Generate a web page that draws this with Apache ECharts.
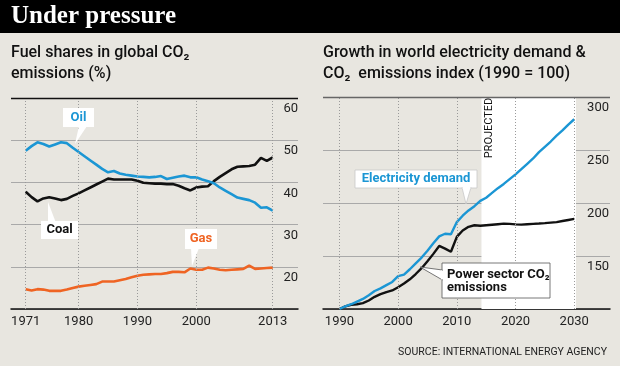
<!DOCTYPE html>
<html><head><meta charset="utf-8">
<script src="https://cdn.jsdelivr.net/npm/echarts@6/dist/echarts.min.js"></script>
<style>html,body{margin:0;padding:0;background:#e8e6e0}#c{width:620px;height:366px}</style>
</head><body><div id="c"></div>
<script>
const fuelYears = [1971,1972,1973,1974,1975,1976,1977,1978,1979,1980,1981,1982,1983,1984,1985,1986,1987,1988,1989,1990,1991,1992,1993,1994,1995,1996,1997,1998,1999,2000,2001,2002,2003,2004,2005,2006,2007,2008,2009,2010,2011,2012,2013];
const oilShare = [47.5,48.6,49.5,49.1,48.5,49.0,49.5,49.3,48.2,47.2,46.2,45.2,44.2,43.2,42.4,42.7,42.1,41.8,41.6,41.4,41.3,41.2,41.3,41.5,40.8,41.1,41.4,41.6,41.2,41.2,40.7,40.3,39.8,38.8,38.0,37.2,36.4,36.1,35.8,35.2,34.0,34.1,33.3];
const coalShare = [37.8,36.5,35.5,36.2,36.5,36.2,35.8,36.1,36.8,37.4,38.1,38.8,39.5,40.2,40.9,40.7,40.7,40.7,40.7,40.4,39.9,39.8,39.7,39.7,39.6,39.6,39.2,38.6,38.1,38.8,39.0,39.1,40.3,41.3,42.2,43.1,43.7,43.8,43.9,44.2,45.8,45.1,45.9];
const gasShare = [14.7,14.4,14.7,14.6,14.3,14.3,14.3,14.6,15.0,15.3,15.5,15.7,15.9,16.5,16.5,16.5,16.8,17.1,17.5,17.9,18.1,18.2,18.3,18.3,18.5,18.8,18.8,18.7,19.6,19.3,19.3,19.8,19.6,19.3,19.2,19.3,19.4,19.5,20.3,19.5,19.6,19.7,19.8];
const fuelTicks = [1971,1980,1990,2000,2013];

const indexYears = [1990,1991,1992,1993,1994,1995,1996,1997,1998,1999,2000,2001,2002,2003,2004,2005,2006,2007,2008,2009,2010,2011,2012,2013,2014,2015,2016,2017,2018,2019,2020,2021,2022,2023,2024,2025,2026,2027,2028,2029,2030];
const electricityDemand = [100,102.5,104.5,107,109.5,113,117,119.5,122.5,125.5,131,132.5,137.5,143,148.5,155,162,168.5,171,170.5,182,188,193,197,202,205,209.5,214,218,222.5,227,232,237,242,248,253,258,263.5,268.5,274,279];
const powerCO2 = [100,102.5,104,104.5,105.5,108,111.5,114,116,117.5,120.5,124,128,133,138.5,145,152,159.5,157,154,168,174,177.5,179,178.5,179,179.5,180,180.5,180.3,179.8,179.6,180,180.3,180.6,181,181.5,182,183,184,185];
const indexTicks = [1990,2000,2010,2020,2030];
const projectedStart = 2014.2, projectedEnd = 2030.3;

const BLUE = '#1b96d4', ORANGE = '#ef6423', BLACK = '#111';
const FONT = 'Roboto, "Noto Sans", sans-serif';

function pairs(xs, ys){ return xs.map((x,i)=>[x, ys[i]]); }
function vlines(ticks){ return ticks.map(t=>({xAxis:t})); }

const chart = echarts.init(document.getElementById('c'), null, {renderer:'canvas'});
const axisLabelY = {inside:true, margin:0, verticalAlign:'top', lineHeight:22, color:'#222', fontSize:13, fontFamily:FONT, showMinLabel:false};
const option = {
  backgroundColor:'#e8e6e0',
  animation:false,
  grid:[{left:11, right:322, top:98, bottom:57},{left:323, right:10, top:97, bottom:57}],
  xAxis:[
    {gridIndex:0, type:'value', min:1968.5, max:2017.3, axisLine:{lineStyle:{color:'#111', width:1.5}}, axisTick:{show:false}, splitLine:{show:false},
     axisLabel:{customValues:fuelTicks, color:'#222', fontSize:13, fontFamily:FONT, margin:6, formatter:v=>String(v)}},
    {gridIndex:1, type:'value', min:1987.2, max:2036.1, axisLine:{lineStyle:{color:'#111', width:1.5}}, axisTick:{show:false}, splitLine:{show:false},
     axisLabel:{customValues:indexTicks, color:'#222', fontSize:13, fontFamily:FONT, margin:6, formatter:v=>String(v)}}
  ],
  yAxis:[
    {gridIndex:0, type:'value', min:10, max:60, interval:10, position:'right', axisLine:{show:false}, axisTick:{show:false},
     splitLine:{lineStyle:{color:'#a9a9a9', width:1}}, axisLabel:axisLabelY},
    {gridIndex:1, type:'value', min:100, max:300, interval:50, position:'right', axisLine:{show:false}, axisTick:{show:false},
     splitLine:{lineStyle:{color:'#a9a9a9', width:1}}, axisLabel:Object.assign({}, axisLabelY, {margin:1})}
  ],
  series:[
    {type:'line', xAxisIndex:1, yAxisIndex:1, z:-3, data:[], silent:true,
     markArea:{silent:true, itemStyle:{color:'#ffffff'}, data:[[{xAxis:projectedStart},{xAxis:projectedEnd}]]}},
    {type:'line', xAxisIndex:0, yAxisIndex:0, z:-1, data:[], silent:true,
     markLine:{silent:true, symbol:'none', label:{show:false}, lineStyle:{type:[1,2], color:'#9a9a9a', width:1}, data:vlines(fuelTicks)}},
    {type:'line', xAxisIndex:1, yAxisIndex:1, z:-1, data:[], silent:true,
     markLine:{silent:true, symbol:'none', label:{show:false}, lineStyle:{type:[1,2], color:'#9a9a9a', width:1}, data:vlines(indexTicks)}},
    {type:'line', xAxisIndex:0, yAxisIndex:0, z:1, data:[], silent:true,
     markLine:{silent:true, symbol:'none', label:{show:false}, lineStyle:{type:'solid', color:'#111', width:1.3}, data:[{yAxis:60}]}},
    {type:'line', xAxisIndex:1, yAxisIndex:1, z:1, data:[], silent:true,
     markLine:{silent:true, symbol:'none', label:{show:false}, lineStyle:{type:'solid', color:'#666', width:1.3}, data:[{yAxis:300}]}},
    {name:'Gas', type:'line', xAxisIndex:0, yAxisIndex:0, showSymbol:false, data:pairs(fuelYears, gasShare), lineStyle:{color:ORANGE, width:2.6}},
    {name:'Coal', type:'line', xAxisIndex:0, yAxisIndex:0, showSymbol:false, data:pairs(fuelYears, coalShare), lineStyle:{color:BLACK, width:2.6}},
    {name:'Oil', type:'line', xAxisIndex:0, yAxisIndex:0, showSymbol:false, data:pairs(fuelYears, oilShare), lineStyle:{color:BLUE, width:2.6}},
    {name:'Power sector CO2 emissions', type:'line', xAxisIndex:1, yAxisIndex:1, showSymbol:false, data:pairs(indexYears, powerCO2), lineStyle:{color:BLACK, width:2.4}},
    {name:'Electricity demand', type:'line', xAxisIndex:1, yAxisIndex:1, showSymbol:false, data:pairs(indexYears, electricityDemand), lineStyle:{color:BLUE, width:2.4}}
  ],
  graphic:[
    {type:'rect', z:100, shape:{x:0, y:0, width:620, height:33}, style:{fill:'#000'}},
    {type:'text', z:101, x:11, y:17, style:{text:'Under pressure', fill:'#fff', font:'bold 25px "Liberation Serif", serif', verticalAlign:'middle'}},
    {type:'text', z:101, x:11, y:53, style:{text:'Fuel shares in global CO₂', fill:'#111', font:'500 16px '+FONT, verticalAlign:'middle'}},
    {type:'text', z:101, x:11, y:74, style:{text:'emissions (%)', fill:'#111', font:'500 16px '+FONT, verticalAlign:'middle'}},
    {type:'text', z:101, x:323, y:53, style:{text:'Growth in world electricity demand &', fill:'#111', font:'500 16px '+FONT, verticalAlign:'middle'}},
    {type:'text', z:101, x:323, y:74, style:{text:'CO₂  emissions index (1990 = 100)', fill:'#111', font:'500 16px '+FONT, verticalAlign:'middle'}},
    {type:'text', z:101, x:607, y:352, style:{text:'SOURCE: INTERNATIONAL ENERGY AGENCY', fill:'#222', font:'10.5px '+FONT, align:'right', verticalAlign:'middle'}},
    {type:'text', z:101, x:489, y:128, rotation:Math.PI/2, style:{text:'PROJECTED', fill:'#111', font:'11px '+FONT, align:'center', verticalAlign:'middle'}},
    // Oil callout
    {type:'polygon', z:100, shape:{points:[[79,126],[87,126],[75,144]]}, style:{fill:'#fff'}},
    {type:'rect', z:100, shape:{x:63, y:108, width:31, height:19}, style:{fill:'#fff'}},
    {type:'text', z:101, x:78.5, y:117.5, style:{text:'Oil', fill:BLUE, font:'bold 13px '+FONT, align:'center', verticalAlign:'middle'}},
    // Coal callout
    {type:'polygon', z:100, shape:{points:[[48,223],[56,223],[48,202]]}, style:{fill:'#fff'}},
    {type:'rect', z:100, shape:{x:41, y:221, width:37, height:18}, style:{fill:'#fff'}},
    {type:'text', z:101, x:59.5, y:230, style:{text:'Coal', fill:'#111', font:'bold 13px '+FONT, align:'center', verticalAlign:'middle'}},
    // Gas callout
    {type:'polygon', z:100, shape:{points:[[191,248],[199,248],[192,266]]}, style:{fill:'#fff'}},
    {type:'rect', z:100, shape:{x:185, y:229, width:32, height:20}, style:{fill:'#fff'}},
    {type:'text', z:101, x:201, y:239, style:{text:'Gas', fill:ORANGE, font:'bold 13px '+FONT, align:'center', verticalAlign:'middle'}},
    // Electricity demand callout
    {type:'rect', z:100, shape:{x:355, y:170, width:122, height:18}, style:{fill:'#fff', stroke:'#c8c8c8', lineWidth:0.8}},
    {type:'polygon', z:100, shape:{points:[[462,187.5],[471,187.5],[466,204]]}, style:{fill:'#fff', stroke:'#c8c8c8', lineWidth:0.8}},
    {type:'rect', z:101, shape:{x:462.5, y:186, width:8, height:2.5}, style:{fill:'#fff'}},
    {type:'text', z:102, x:416, y:179, style:{text:'Electricity demand', fill:BLUE, font:'bold 13px '+FONT, align:'center', verticalAlign:'middle'}},
    // Power sector callout
    {type:'rect', z:100, shape:{x:442, y:263, width:108, height:35}, style:{fill:'#fff', stroke:'#555', lineWidth:0.8}},
    {type:'polygon', z:100, shape:{points:[[442.5,270],[442.5,280],[420,267]]}, style:{fill:'#fff', stroke:'#555', lineWidth:0.8}},
    {type:'rect', z:101, shape:{x:441, y:270.5, width:3, height:9}, style:{fill:'#fff'}},
    {type:'text', z:102, x:447, y:275, style:{text:'Power sector CO₂', fill:'#111', font:'bold 13px '+FONT, verticalAlign:'middle'}},
    {type:'text', z:102, x:447, y:288, style:{text:'emissions', fill:'#111', font:'bold 13px '+FONT, verticalAlign:'middle'}}
  ]
};
chart.setOption(option);
</script></body></html>
